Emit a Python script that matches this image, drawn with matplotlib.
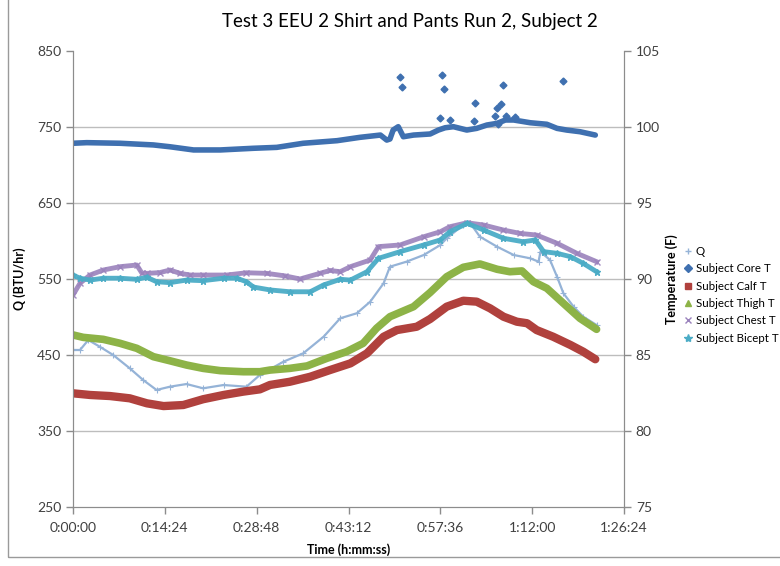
import matplotlib
matplotlib.use("Agg")
import matplotlib.pyplot as plt
from matplotlib.lines import Line2D
from matplotlib.patches import Rectangle

plt.rcParams['font.family'] = ['Lato', 'DejaVu Sans']

# time in minutes from start
q_t = [0.0, 1.1, 2.4, 4.2, 6.3, 8.9, 11.0, 13.1, 15.2, 17.8, 20.4, 23.6, 27.2, 29.3,
       33.0, 36.1, 39.3, 41.9, 44.5, 46.6, 48.7, 49.7, 52.3, 55.0, 57.6, 58.6, 61.2,
       62.3, 63.8, 66.5, 69.1, 71.7, 73.0, 73.3, 74.8, 75.9, 76.9, 78.5, 80.0, 82.1]
q_val = [456.6, 456.6, 469.7, 460.9, 450.0, 432.5, 417.1, 404.0, 408.3, 411.8, 406.2,
         410.5, 408.3, 423.7, 441.2, 452.2, 474.1, 498.3, 504.9, 520.1, 544.3, 566.2,
         572.8, 581.6, 594.7, 603.6, 621.1, 623.3, 605.7, 592.5, 581.6, 577.2, 572.8,
         585.9, 575.0, 553.0, 531.2, 513.5, 500.4, 489.5]

core_t = [0.0, 2.15, 7.37, 12.6, 15.2, 18.9, 23.1, 28.3, 31.95, 36.1, 41.4, 45.0, 48.2,
          49.2, 49.7, 50.2, 51.0, 51.8, 53.4, 56.0, 57.3, 58.35, 59.65, 61.75, 63.3,
          64.9, 66.5, 67.8, 69.1, 71.7, 74.3, 75.9, 77.4, 79.5, 81.9]
core_val = [98.93, 98.97, 98.93, 98.82, 98.70, 98.49, 98.49, 98.60, 98.66, 98.93, 99.10,
            99.32, 99.47, 99.14, 99.21, 99.80, 100.02, 99.36, 99.47, 99.54, 99.80, 99.95,
            100.02, 99.80, 99.91, 100.13, 100.24, 100.46, 100.46, 100.28, 100.18, 99.91,
            99.80, 99.69, 99.47]
# stray core readings
core_spike_t = [51.3, 51.6, 57.6, 57.8, 58.1, 59.1, 62.9, 63.1, 66.2, 66.5, 66.7, 67.1,
                67.4, 67.9, 69.3, 76.8]
core_spike_val = [103.31, 102.61, 100.59, 103.44, 102.50, 100.46, 100.41, 101.56, 100.74,
                  101.27, 100.20, 101.49, 102.76, 100.74, 100.64, 103.05]

calf_t = [0.0, 2.67, 5.8, 8.9, 11.6, 14.2, 17.3, 20.4, 23.6, 26.7, 29.3, 30.9, 34.0, 37.2,
          40.3, 43.5, 46.1, 48.7, 50.8, 53.9, 56.0, 58.6, 61.2, 63.3, 65.4, 67.5, 69.6,
          71.2, 72.7, 75.3, 78.0, 80.0, 81.9]
calf_val = [82.48, 82.37, 82.30, 82.15, 81.82, 81.64, 81.71, 82.09, 82.37, 82.59, 82.74,
            83.03, 83.24, 83.57, 84.01, 84.45, 85.11, 86.20, 86.64, 86.86, 87.37, 88.18,
            88.57, 88.51, 88.07, 87.52, 87.19, 87.09, 86.64, 86.20, 85.66, 85.22, 84.72]

thigh_t = [0.0, 1.6, 4.75, 7.37, 10.0, 12.6, 15.2, 17.8, 20.4, 23.1, 26.7, 29.3, 30.9, 34.0,
           36.7, 39.8, 42.9, 45.5, 47.6, 49.7, 53.4, 56.0, 58.6, 61.2, 63.8, 66.5, 68.5,
           70.4, 72.2, 74.3, 76.9, 79.5, 82.1]
thigh_val = [86.32, 86.16, 86.03, 85.77, 85.44, 84.89, 84.62, 84.34, 84.12, 83.97, 83.90,
             83.90, 84.01, 84.12, 84.28, 84.78, 85.22, 85.77, 86.76, 87.52, 88.18, 89.11,
             90.15, 90.77, 90.99, 90.64, 90.48, 90.53, 89.82, 89.39, 88.40, 87.41, 86.69]

chest_t = [0.0, 1.1, 2.67, 4.75, 7.37, 10.0, 10.8, 11.6, 13.6, 15.2, 16.8, 18.4, 20.4, 24.1,
           27.2, 30.4, 33.3, 35.6, 38.7, 40.3, 41.9, 43.5, 46.6, 47.9, 51.3, 55.0, 57.6,
           59.1, 61.8, 64.4, 67.5, 70.1, 72.7, 75.9, 79.0, 82.1]
chest_val = [88.95, 89.72, 90.26, 90.59, 90.81, 90.92, 90.39, 90.37, 90.42, 90.59, 90.37,
             90.26, 90.26, 90.26, 90.41, 90.37, 90.20, 90.00, 90.37, 90.56, 90.48, 90.81,
             91.25, 92.13, 92.24, 92.78, 93.11, 93.44, 93.70, 93.55, 93.22, 93.00, 92.89,
             92.35, 91.69, 91.14]

bicep_t = [0.0, 1.1, 2.67, 4.75, 7.37, 10.0, 11.6, 13.1, 15.2, 17.8, 20.4, 23.6, 25.7, 27.2,
           28.3, 30.9, 34.0, 37.2, 39.3, 41.9, 43.5, 46.1, 47.9, 51.3, 55.0, 57.6, 59.1,
           61.8, 64.4, 67.5, 70.6, 72.5, 73.8, 75.9, 78.0, 80.0, 82.1]
bicep_val = [90.26, 90.05, 89.93, 90.05, 90.05, 89.98, 90.11, 89.82, 89.76, 89.93, 89.89,
             90.05, 90.05, 89.82, 89.47, 89.28, 89.16, 89.16, 89.61, 89.98, 89.93, 90.48,
             91.36, 91.80, 92.24, 92.57, 93.11, 93.66, 93.22, 92.68, 92.45, 92.57, 91.80,
             91.69, 91.47, 91.03, 90.48]

xticks_min = [0, 14.4, 28.8, 43.2, 57.6, 72.0, 86.4]
xtick_labels = ['0:00:00', '0:14:24', '0:28:48', '0:43:12', '0:57:36', '1:12:00', '1:26:24']
q_ticks = [250, 350, 450, 550, 650, 750, 850]
temp_ticks = [75, 80, 85, 90, 95, 100, 105]

c_q = '#95B3D7'
c_core = '#3F70B0'
c_calf = '#B0413D'
c_thigh = '#8DB347'
c_chest = '#9A82BC'
c_bicep = '#4BACC6'
axis_grey = '#8C8C8C'
txt = '#404040'

fig = plt.figure(figsize=(7.8, 5.66), dpi=100)
ax = fig.add_axes([73 / 780, 1 - 507 / 566, 551 / 780, 456 / 566])
ax2 = ax.twinx()

# chart area border
fig.patches.append(Rectangle((8 / 780, 1 - 557 / 566), 1.0, 1.0, transform=fig.transFigure,
                             fill=False, edgecolor='#9A9A9A', linewidth=1.0))

ax.set_xlim(0, 86.4)
ax.set_ylim(250, 850)
ax2.set_ylim(75, 105)

for v in q_ticks[1:-1]:
    ax.axhline(v, color='#BDBDBD', linewidth=1.0, zorder=0)

ax.plot(q_t, q_val, color=c_q, linewidth=1.6, marker='+', markersize=4, markeredgewidth=0.8)

ax2.plot(core_t, core_val, color=c_core, linewidth=4.0, solid_capstyle='round')
ax2.plot(core_spike_t, core_spike_val, color=c_core, linestyle='none', marker='D', markersize=3.5)
ax2.plot(calf_t, calf_val, color=c_calf, linewidth=6.0, solid_capstyle='round')
ax2.plot(thigh_t, thigh_val, color=c_thigh, linewidth=5.5, solid_capstyle='round')
ax2.plot(chest_t, chest_val, color=c_chest, linewidth=3.5, marker='x', markersize=5,
         markeredgewidth=1.0, alpha=0.9)
ax2.plot(bicep_t, bicep_val, color=c_bicep, linewidth=3.5, marker='*', markersize=5, alpha=0.95)

ax.set_xticks(xticks_min)
ax.set_xticklabels(xtick_labels)
ax.set_yticks(q_ticks)
ax2.set_yticks(temp_ticks)

for a in (ax, ax2):
    a.tick_params(colors=axis_grey, labelcolor=txt, labelsize=10, length=5, width=1)
    for s in a.spines.values():
        s.set_color(axis_grey)
    a.spines['top'].set_visible(False)
ax.tick_params(axis='x', pad=6)

ax.set_ylabel('Q (BTU/hr)', fontsize=9, fontweight='bold')
ax.yaxis.set_label_coords(-0.085, 0.5)
ax2.set_ylabel('Temperature (F)', fontsize=9, fontweight='bold')
ax2.yaxis.set_label_coords(1.075, 0.5)
ax.set_xlabel('Time (h:mm:ss)', fontsize=9, fontweight='bold')
ax.xaxis.set_label_coords(0.5, -0.08)

fig.text(410 / 780, 1 - 22 / 566, 'Test 3 EEU 2 Shirt and Pants Run 2, Subject 2',
         ha='center', va='center', fontsize=13.5, color='#000000')

handles = [
    Line2D([], [], ls='none', marker='+', color=c_q, markersize=5),
    Line2D([], [], ls='none', marker='D', color=c_core, markersize=4),
    Line2D([], [], ls='none', marker='s', color=c_calf, markersize=5),
    Line2D([], [], ls='none', marker='^', color=c_thigh, markersize=5),
    Line2D([], [], ls='none', marker='x', color=c_chest, markersize=5),
    Line2D([], [], ls='none', marker='*', color=c_bicep, markersize=6),
]
labels = ['Q', 'Subject Core T', 'Subject Calf T', 'Subject Thigh T',
          'Subject Chest T', 'Subject Bicept T']
fig.legend(handles, labels, loc='upper left', bbox_to_anchor=(684 / 780, 1 - 246 / 566),
           frameon=False, fontsize=8.3, handlelength=0.7, handletextpad=0.3,
           labelspacing=0.55, borderaxespad=0, borderpad=0)

fig.savefig('out.png', dpi=100)
